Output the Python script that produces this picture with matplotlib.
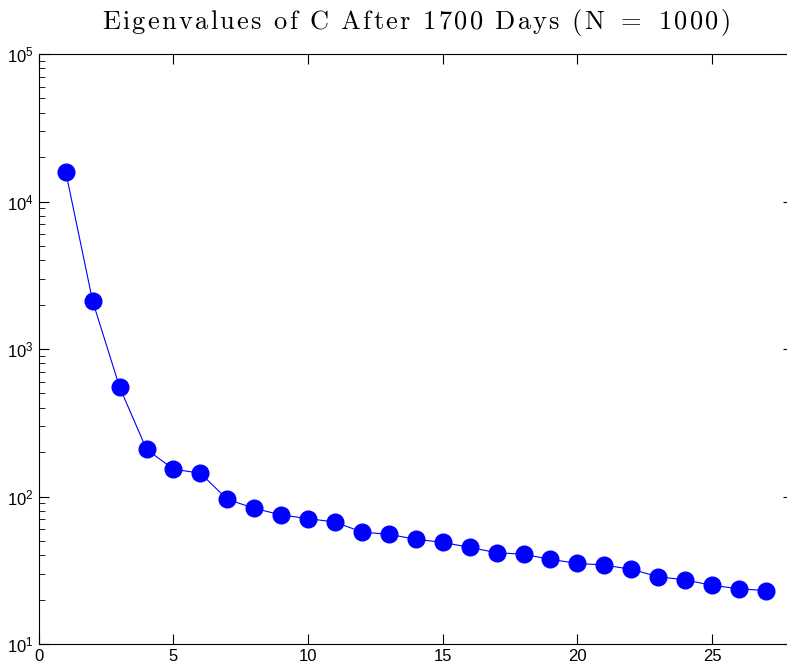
import numpy as np
import matplotlib
matplotlib.use('Agg')
import matplotlib.pyplot as plt

plt.rcParams['mathtext.fontset'] = 'cm'
plt.rcParams['font.family'] = ['Liberation Sans', 'DejaVu Sans']

# eigenvalues
idx = np.arange(1, 28)
eigvals = [15900, 2110, 552, 209, 153, 144, 95.7, 83.2, 75.0, 70.8,
           67.1, 57.4, 55.4, 51.3, 48.9, 45.2, 41.6, 40.6, 37.5, 35.2,
           34.3, 32.1, 28.6, 27.2, 25.0, 23.7, 23.0]
title = 'Eigenvalues of C After 1700 Days (N = 1000)'

fig = plt.figure(figsize=(7.87, 6.69), dpi=100)
# right spine sits just past the image edge, as in the original
ax = fig.add_axes([38.8/787, 25/669, 754/787, 590/669])

ax.semilogy(idx, eigvals, '-o', color='blue', lw=0.8,
            markersize=12, markeredgecolor='blue')

ax.set_xlim(0, 28)
ax.set_ylim(10, 1e5)
ax.set_xticks([0, 5, 10, 15, 20, 25])
ax.tick_params(which='both', direction='in', top=True, labelsize=12)
ax.tick_params(which='major', length=7, right=True)
ax.tick_params(which='minor', length=4, right=False)

# spaced-out computer modern title
chars = [r'\ ' if c == ' ' else c for c in title]
tt = r'$\mathrm{' + r'\hspace{0.1}'.join(chars) + '}$'
ax.set_title(tt, fontsize=19, pad=18)

fig.savefig('out.png', dpi=100)
